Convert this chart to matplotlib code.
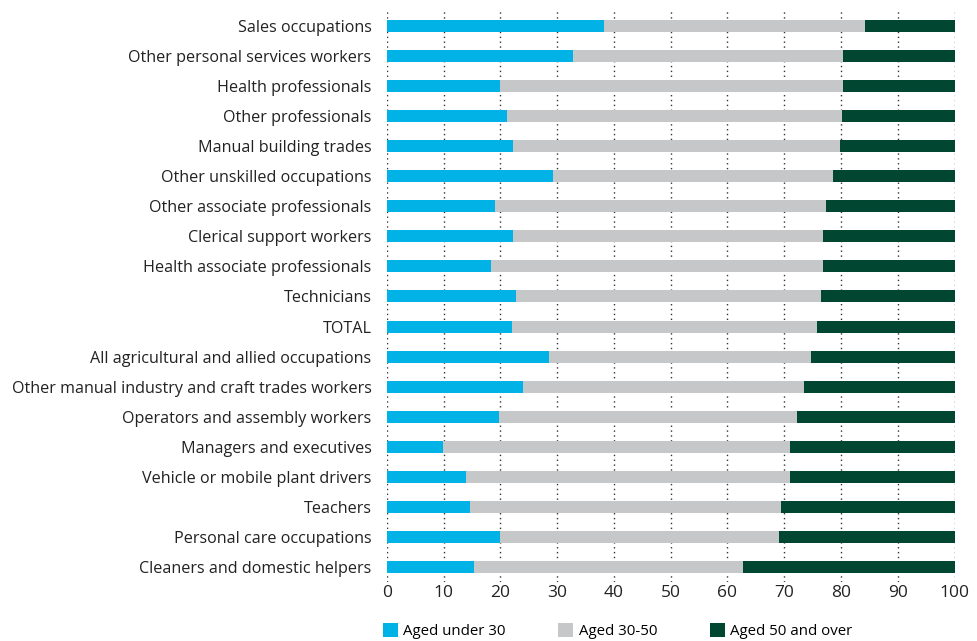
import numpy as np
import matplotlib.pyplot as plt

# Доли возрастных групп по профессиям, %
occupations = [
    'Sales occupations',
    'Other personal services workers',
    'Health professionals',
    'Other professionals',
    'Manual building trades',
    'Other unskilled occupations',
    'Other associate professionals',
    'Clerical support workers',
    'Health associate professionals',
    'Technicians',
    'TOTAL',
    'All agricultural and allied occupations',
    'Other manual industry and craft trades workers',
    'Operators and assembly workers',
    'Managers and executives',
    'Vehicle or mobile plant drivers',
    'Teachers',
    'Personal care occupations',
    'Cleaners and domestic helpers',
]
under_30 = [38.3, 32.7, 20.0, 21.2, 22.3, 29.2, 19.0, 22.3, 18.4, 22.7,
            22.0, 28.6, 23.9, 19.8, 9.9, 13.9, 14.7, 20.0, 15.4]
aged_30_50 = [46.0, 47.7, 60.4, 59.0, 57.6, 49.4, 58.4, 54.5, 58.4, 53.7,
              53.7, 46.1, 49.6, 52.4, 61.2, 57.1, 54.8, 49.0, 47.4]
over_50 = [15.7, 19.6, 19.6, 19.8, 20.1, 21.4, 22.6, 23.2, 23.2, 23.6,
           24.3, 25.3, 26.5, 27.8, 28.9, 29.0, 30.5, 31.0, 37.2]

series = ['Aged under 30', 'Aged 30-50', 'Aged 50 and over']
colors = ['#00b2e6', '#c6c7c9', '#004631']

plt.rcParams['font.family'] = ['Open Sans', 'DejaVu Sans']

fig = plt.figure(figsize=(9.77, 6.41), dpi=100)
ax = fig.add_axes([0.396, 0.092, 0.581, 0.891])

y = np.arange(len(occupations))
left = np.zeros(len(occupations))
for name, vals, c in zip(series, [under_30, aged_30_50, over_50], colors):
    ax.barh(y, vals, left=left, height=0.4, color=c, label=name, zorder=2)
    left += np.array(vals)

ax.set_xlim(0, 100)
ax.set_ylim(len(occupations) - 0.5, -0.5)
ax.set_xticks(np.arange(0, 101, 10))
ax.set_yticks(y)
ax.set_yticklabels(occupations, fontsize=11.6, color='#222222')
ax.tick_params(axis='x', labelsize=12.5, length=0, pad=2, colors='#222222')
ax.tick_params(axis='y', length=0, pad=11)
ax.grid(axis='x', linestyle=(0, (1, 2.5)), color='#333333', linewidth=1, zorder=0)
for s in ax.spines.values():
    s.set_visible(False)

fig.legend(loc='upper left', bbox_to_anchor=(0.386, 0.037), ncol=3,
           frameon=False, fontsize=10.8, handlelength=1.0, handleheight=1.0,
           handletextpad=0.35, columnspacing=3.5, borderaxespad=0)

fig.savefig('out.png', dpi=100)
